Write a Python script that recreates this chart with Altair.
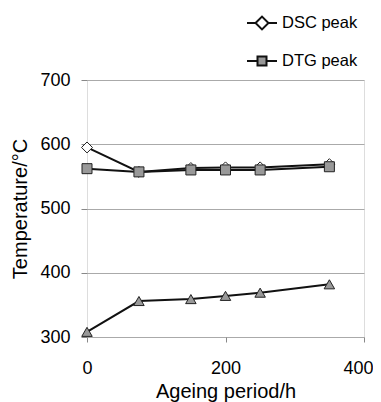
import altair as alt
import pandas as pd

ageing_h = [0, 75, 150, 200, 250, 350]
dsc_peak = [595, 557, 563, 564, 564, 569]
dtg_peak = [562, 557, 560, 560, 560, 565]
onset = [308, 356, 359, 364, 369, 382]

series_names = ["DSC peak", "DTG peak", "Onset"]
rows = []
for name, vals in zip(series_names, [dsc_peak, dtg_peak, onset]):
    for x, y in zip(ageing_h, vals):
        rows.append({"series": name, "age": x, "temp": y})
df = pd.DataFrame(rows)

FONT = "Liberation Sans"

xenc = alt.X("age:Q", scale=alt.Scale(domain=[0, 400], nice=False),
             axis=alt.Axis(values=[0, 200, 400], title="Ageing period/h", grid=False,
                           domain=False, tickColor="#888", tickSize=5, labelFlush=False,
                           labelAlign=alt.condition("datum.value == 400", alt.value("right"), alt.value("center")),
                           labelOffset=alt.condition("datum.value == 400", alt.value(9), alt.value(0)),
                           labelFontSize=18, titleFontSize=20, labelPadding=17,
                           titlePadding=4, labelColor="#000", titleColor="#000",
                           titleFontWeight="normal", labelFont=FONT, titleFont=FONT))
yenc = alt.Y("temp:Q", scale=alt.Scale(domain=[300, 700], nice=False),
             axis=alt.Axis(values=[300, 400, 500, 600, 700], title="Temperature/°C",
                           grid=True, gridColor="#aaa", domain=False, tickColor="#888",
                           tickSize=6, labelFontSize=18, titleFontSize=20, labelPadding=11,
                           titlePadding=9, labelColor="#000", titleColor="#000", labelFlush=False,
                           titleFontWeight="normal", labelFont=FONT, titleFont=FONT))

base = alt.Chart(df)

lines = base.mark_line(color="#111", strokeWidth=2).encode(
    x=xenc, y=yenc, detail="series:N")

def pts(name, shape, fill, size):
    return base.transform_filter(alt.datum.series == name).mark_point(
        shape=shape, filled=True, fill=fill, stroke="#222", strokeWidth=1, size=size, opacity=1
    ).encode(x="age:Q", y="temp:Q")

dsc_pts = pts("DSC peak", "diamond", "#fff", 120)
dtg_pts = pts("DTG peak", "square", "#999", 100)
on_pts = pts("Onset", "triangle-up", "#999", 110)

dsc_sym = "M-1,0H-0.43M-0.43,0L0,-0.43L0.43,0L0,0.43ZM0.43,0H1"
dtg_sym = "M-1,0H-0.3M-0.3,-0.3H0.3V0.3H-0.3ZM0.3,0H1"

legend_names = ["DSC peak", "DTG peak"]
leg = alt.Legend(title=None, orient="none", legendX=159, legendY=-73,
                 symbolSize=900, symbolOpacity=1, symbolStrokeWidth=2,
                 labelFontSize=16.5, labelFont=FONT, labelColor="#000",
                 labelOffset=4, rowPadding=11)

legend_layer = base.transform_filter(alt.datum.series != "Onset").mark_point(
    filled=True, opacity=0
).encode(
    x="age:Q", y="temp:Q",
    shape=alt.Shape("series:N", scale=alt.Scale(domain=legend_names, range=[dsc_sym, dtg_sym]),
                    legend=leg),
    fill=alt.Fill("series:N", scale=alt.Scale(domain=legend_names, range=["#fff", "#999"]),
                  legend=leg),
    stroke=alt.Stroke("series:N", scale=alt.Scale(domain=legend_names, range=["#111", "#111"]),
                      legend=leg),
)

chart = alt.layer(lines, dsc_pts, dtg_pts, on_pts, legend_layer).properties(
    width=277, height=257,
    autosize=alt.AutoSizeParams(type="none"),
    padding={"left": 79, "top": 72, "right": 9, "bottom": 65},
).configure_view(stroke="#888", strokeWidth=1.5).configure(background="white")

chart.save("out.html", embed_options={"renderer": "svg", "actions": False})
